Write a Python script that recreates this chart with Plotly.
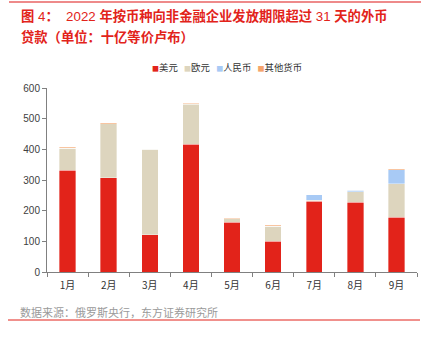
import plotly.graph_objects as go

months = ["1月", "2月", "3月", "4月", "5月", "6月", "7月", "8月", "9月"]
usd = [332, 308, 121, 416, 162, 101, 230, 228, 178]
eur = [72, 176, 279, 131, 11, 48, 4, 34, 109]
cny = [0, 0, 0, 1, 0, 0, 18, 5, 47]
other = [2, 3, 2, 2, 3, 3, 0, 0, 3]

names = ["美元", "欧元", "人民币", "其他货币"]
colors = ["#E2231A", "#DDD5BE", "#A8CAF5", "#F5A46C"]
series = [usd, eur, cny, other]

FONT = "Noto Sans CJK SC"
NUMFONT = "Liberation Sans, Noto Sans CJK SC"

fig = go.Figure()
for n, c, s in zip(names, colors, series):
    fig.add_trace(go.Bar(x=months, y=s, name=n, showlegend=False,
                         marker=dict(color=c, line=dict(width=0.6, color="rgba(255,255,255,0.6)")),
                         width=0.4))

fig.update_layout(
    barmode="stack",
    width=424, height=342,
    margin=dict(l=47, r=7, t=88, b=70),
    paper_bgcolor="white", plot_bgcolor="white",
    font=dict(family=FONT, size=10, color="#333333"),
    xaxis=dict(showline=True, linecolor="#808080", linewidth=1, ticks="outside", tickcolor="#808080",
               ticklen=4, tickson="boundaries", showgrid=False, ticklabelstandoff=4,
               tickfont=dict(size=10, color="#333333")),
    yaxis=dict(range=[0, 600], dtick=100, showline=True, linecolor="#808080", linewidth=1, ticks="outside",
               tickcolor="#808080", ticklen=4, showgrid=False, zeroline=False,
               tickfont=dict(family=NUMFONT, size=10, color="#404040")),
)

PW, PH = 370.0, 184.0
def px(x):
    return (x - 47) / PW
def py(y):
    return (272 - y) / PH

# legend as text row
legend_text = "&nbsp;&nbsp;&nbsp;".join(
    f"<span style='color:{c};font-size:7px'>■</span>{n}" for n, c in zip(names, colors))
fig.add_annotation(text=legend_text, xref="paper", yref="paper", x=px(150), y=py(67),
                   xanchor="left", yanchor="middle", showarrow=False,
                   font=dict(family=FONT, size=9.4, color="#333333"))

def num(t):
    return f"<span style='font-weight:normal'>{t}</span>"

title1 = f"图 {num('4')}：  {num('2022')} 年按币种向非金融企业发放期限超过 {num('31')} 天的外币"
title2 = "贷款（单位：十亿等价卢布）"
fig.add_annotation(text=title1,
                   xref="paper", yref="paper", x=px(19), y=py(16), xanchor="left", yanchor="middle",
                   showarrow=False, font=dict(family=NUMFONT, size=13.3, color="#E2231A", weight="bold"))
fig.add_annotation(text=title2,
                   xref="paper", yref="paper", x=px(19), y=py(37), xanchor="left", yanchor="middle",
                   showarrow=False, font=dict(family=NUMFONT, size=13.3, color="#E2231A", weight="bold"))
fig.add_annotation(text="数据来源：俄罗斯央行，东方证券研究所", xref="paper", yref="paper",
                   x=px(18), y=py(312), xanchor="left", yanchor="middle", showarrow=False,
                   font=dict(family=FONT, size=11, color="#9A9A9A"))
fig.add_shape(type="line", xref="paper", yref="paper", x0=px(9), x1=px(421), y0=py(2), y1=py(2),
              line=dict(color="#EE8A8A", width=2))
fig.add_shape(type="line", xref="paper", yref="paper", x0=px(8), x1=px(420), y0=py(320), y1=py(320),
              line=dict(color="#E2231A", width=1))

fig.write_html("out.html")
